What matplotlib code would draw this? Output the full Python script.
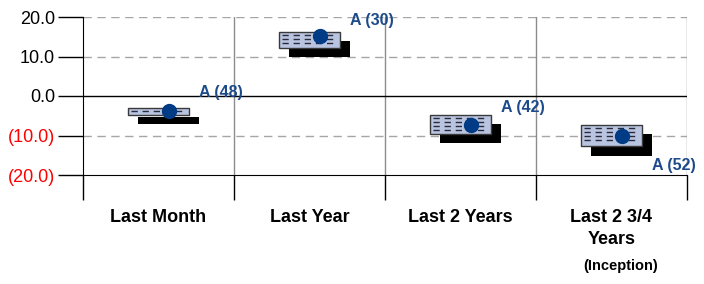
import numpy as np
import matplotlib.pyplot as plt

plt.rcParams['font.family'] = ['Liberation Sans', 'DejaVu Sans']

# categories and values
categories = ['Last Month', 'Last Year', 'Last 2 Years', 'Last 2 3/4\nYears']
box_top = [-3.0, 16.2, -4.8, -7.3]
box_bottom = [-4.8, 12.2, -9.6, -12.7]
dot_value = [-3.8, 15.2, -7.3, -10.1]
rank_labels = ['A (48)', 'A (30)', 'A (42)', 'A (52)']
rank_label_y = [1.0, 19.2, -3.0, -17.7]
yticks = [20, 10, 0, -10, -20]
ytick_labels = ['20.0', '10.0', '0.0', '(10.0)', '(20.0)']

box_face = '#b8c4e0'
navy = '#003b85'
label_navy = '#1c4a8a'

fig = plt.figure(figsize=(7.04, 2.84), dpi=100)
ax = fig.add_axes([83 / 704, 1 - 175 / 284, (687 - 83) / 704, (175 - 17) / 284])

n = len(categories)
ax.set_xlim(0, n)
ax.set_ylim(-20, 20)

# grid
for v in [20, 10, -10]:
    ax.axhline(v, color='#a6a6a6', lw=1, ls=(0, (6, 4)), zorder=0)
ax.axhline(0, color='black', lw=1, zorder=1)
for i in range(1, n + 1):
    ax.axvline(i, color='#8c8c8c', lw=1, zorder=0)

width = 0.40
sh_dx, sh_dy = 0.066, -2.4
dot_dx = 0.07
for i in range(n):
    c = i + 0.5
    lo, hi = box_bottom[i], box_top[i]
    # shadow
    ax.add_patch(plt.Rectangle((c - width / 2 + sh_dx, lo + sh_dy), width, hi - lo,
                               facecolor='black', edgecolor='black', lw=0, zorder=2))
    # box
    ax.add_patch(plt.Rectangle((c - width / 2, lo), width, hi - lo,
                               facecolor=box_face, edgecolor='#3a3a3a', lw=1, zorder=3))
    # dashed fill lines inside box
    rows = np.arange(hi - 0.8, lo + 0.6, -1.0)
    ax.hlines(rows, c - width / 2 + 0.015, c + width / 2 - 0.03, colors='#2a2a3a',
              lw=1.0, linestyles=(0, (4.5, 3.5)), zorder=4)
    ax.plot(c + dot_dx, dot_value[i], 'o', color=navy, ms=10, zorder=5)
    ax.text(c + 0.265, rank_label_y[i], rank_labels[i], color=label_navy,
            fontsize=11.5, fontweight='bold', va='center', ha='left', zorder=6)

# axes styling
ax.spines['top'].set_visible(False)
ax.spines['right'].set_visible(False)
ax.spines['left'].set_color('black')
ax.spines['bottom'].set_color('black')
ax.set_yticks(yticks)
ax.set_yticklabels(ytick_labels, fontsize=13)
for t, v in zip(ax.get_yticklabels(), yticks):
    t.set_color('red' if v < 0 else 'black')
ax.tick_params(axis='y', length=18, width=1, pad=2)
ax.set_xticks(range(n + 1))
ax.set_xticklabels([])
ax.tick_params(axis='x', length=18, width=1, color='black')

for i, cat in enumerate(categories):
    ax.text(i + 0.5, -28.5, cat, ha='center', va='top', fontsize=13,
            fontweight='bold', linespacing=1.45)
ax.text(n - 0.44, -41.2, '(Inception)', ha='center', va='top', fontsize=10.5,
        fontweight='bold')

fig.savefig('out.png', dpi=100)
